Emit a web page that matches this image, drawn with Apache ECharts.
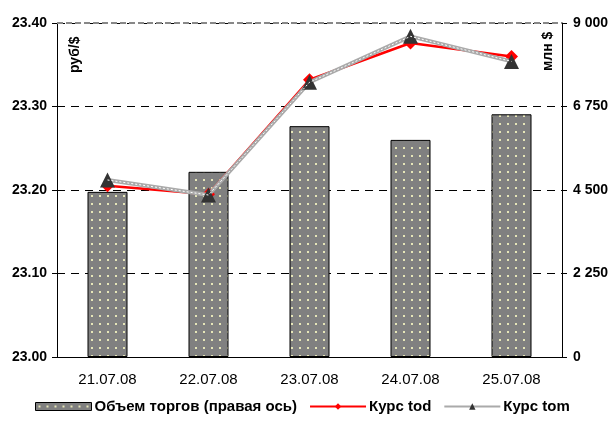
<!DOCTYPE html>
<html><head><meta charset="utf-8">
<script src="https://cdn.jsdelivr.net/npm/echarts@6/dist/echarts.min.js"></script>
<style>html,body{margin:0;padding:0;background:#fff}#c{width:612px;height:421px}</style>
</head><body><div id="c"></div>
<script>
const categories = ['21.07.08','22.07.08','23.07.08','24.07.08','25.07.08'];
const volume = [4450, 4990, 6220, 5850, 6540];
const kursTod = [23.205, 23.195, 23.332, 23.376, 23.360];
const kursTom = [23.212, 23.194, 23.329, 23.384, 23.354];
const leftTicks = {min: 23.0, max: 23.4, interval: 0.1};
const rightTicks = {min: 0, max: 9000, interval: 2250};

const pc = document.createElement('canvas');
pc.width = 8; pc.height = 8;
const g = pc.getContext('2d');
g.fillStyle = '#808080'; g.fillRect(0,0,8,8);
g.fillStyle = '#e6e6b8'; g.fillRect(3,3,2,2);

const font = '"Liberation Sans", Arial, sans-serif';
const chart = echarts.init(document.getElementById('c'), null, {renderer:'canvas'});
chart.setOption({
  animation:false,
  textStyle:{fontFamily:font},
  grid:{left:57,right:50,top:23,bottom:64,show:false},
  legend:{
    bottom:2,left:30,itemGap:12,
    textStyle:{fontFamily:font,fontWeight:'bold',fontSize:15,color:'#000',padding:[0,0,0,-2]},
    data:[
      {name:'Объем торгов (правая ось)',icon:'rect',itemStyle:{color:{image:pc,repeat:'repeat'},borderColor:'#000',borderWidth:1}},
      {name:'Курс tod'},
      {name:'Курс tom'}
    ],
    itemWidth:56,itemHeight:8
  },
  xAxis:{type:'category',data:categories,
    axisLine:{lineStyle:{color:'#000',width:1}},axisTick:{show:false},
    axisLabel:{color:'#000',fontSize:15,margin:15,fontFamily:font}},
  yAxis:[
    {type:'value',min:leftTicks.min,max:leftTicks.max,interval:leftTicks.interval,position:'left',
     axisLine:{show:true,lineStyle:{color:'#000'}},axisTick:{show:true,length:5,lineStyle:{color:'#000'}},
     axisLabel:{color:'#000',fontWeight:'bold',fontSize:14,margin:10,formatter:v=>v.toFixed(2)},
     splitLine:{show:true,lineStyle:{color:'#000',type:[8,6],width:1}}},
    {type:'value',min:rightTicks.min,max:rightTicks.max,interval:rightTicks.interval,position:'right',
     axisLine:{show:true,lineStyle:{color:'#000'}},axisTick:{show:true,length:5,lineStyle:{color:'#000'}},
     axisLabel:{color:'#000',fontWeight:'bold',fontSize:14,margin:11,
       formatter:v=>String(v).replace(/\B(?=(\d{3})+(?!\d))/g,' ')},
     splitLine:{show:false}}
  ],
  graphic:[
    {type:'line',shape:{x1:57,y1:23,x2:562,y2:23},style:{stroke:'#888',lineWidth:2,lineDash:[6,3]},z:5},
    {type:'text',x:68,y:73,rotation:Math.PI/2,style:{text:'руб/$',font:'bold 14px '+font,fill:'#000'}},
    {type:'text',x:541,y:71,rotation:Math.PI/2,style:{text:'млн $',font:'bold 14px '+font,fill:'#000'}}
  ],
  series:[
    {name:'Объем торгов (правая ось)',type:'bar',yAxisIndex:1,data:volume,barWidth:40,
     itemStyle:{color:{image:pc,repeat:'repeat'},borderColor:'#000',borderWidth:1},z:2},
    {name:'Курс tod',type:'line',yAxisIndex:0,data:kursTod,symbol:'diamond',symbolSize:13,
     lineStyle:{color:'#ff0000',width:2.5},itemStyle:{color:'#ff0000'},z:4},
    {name:'Курс tom',type:'line',yAxisIndex:0,data:kursTom,symbol:'triangle',symbolSize:15,
     lineStyle:{color:'#aaaaaa',width:4},itemStyle:{color:'#333333'},z:5},
    {name:'tomInner',type:'line',yAxisIndex:0,data:kursTom,symbol:'none',
     lineStyle:{color:'#ffffff',width:1,type:[2,2]},z:6,silent:true}
  ]
});
</script></body></html>
